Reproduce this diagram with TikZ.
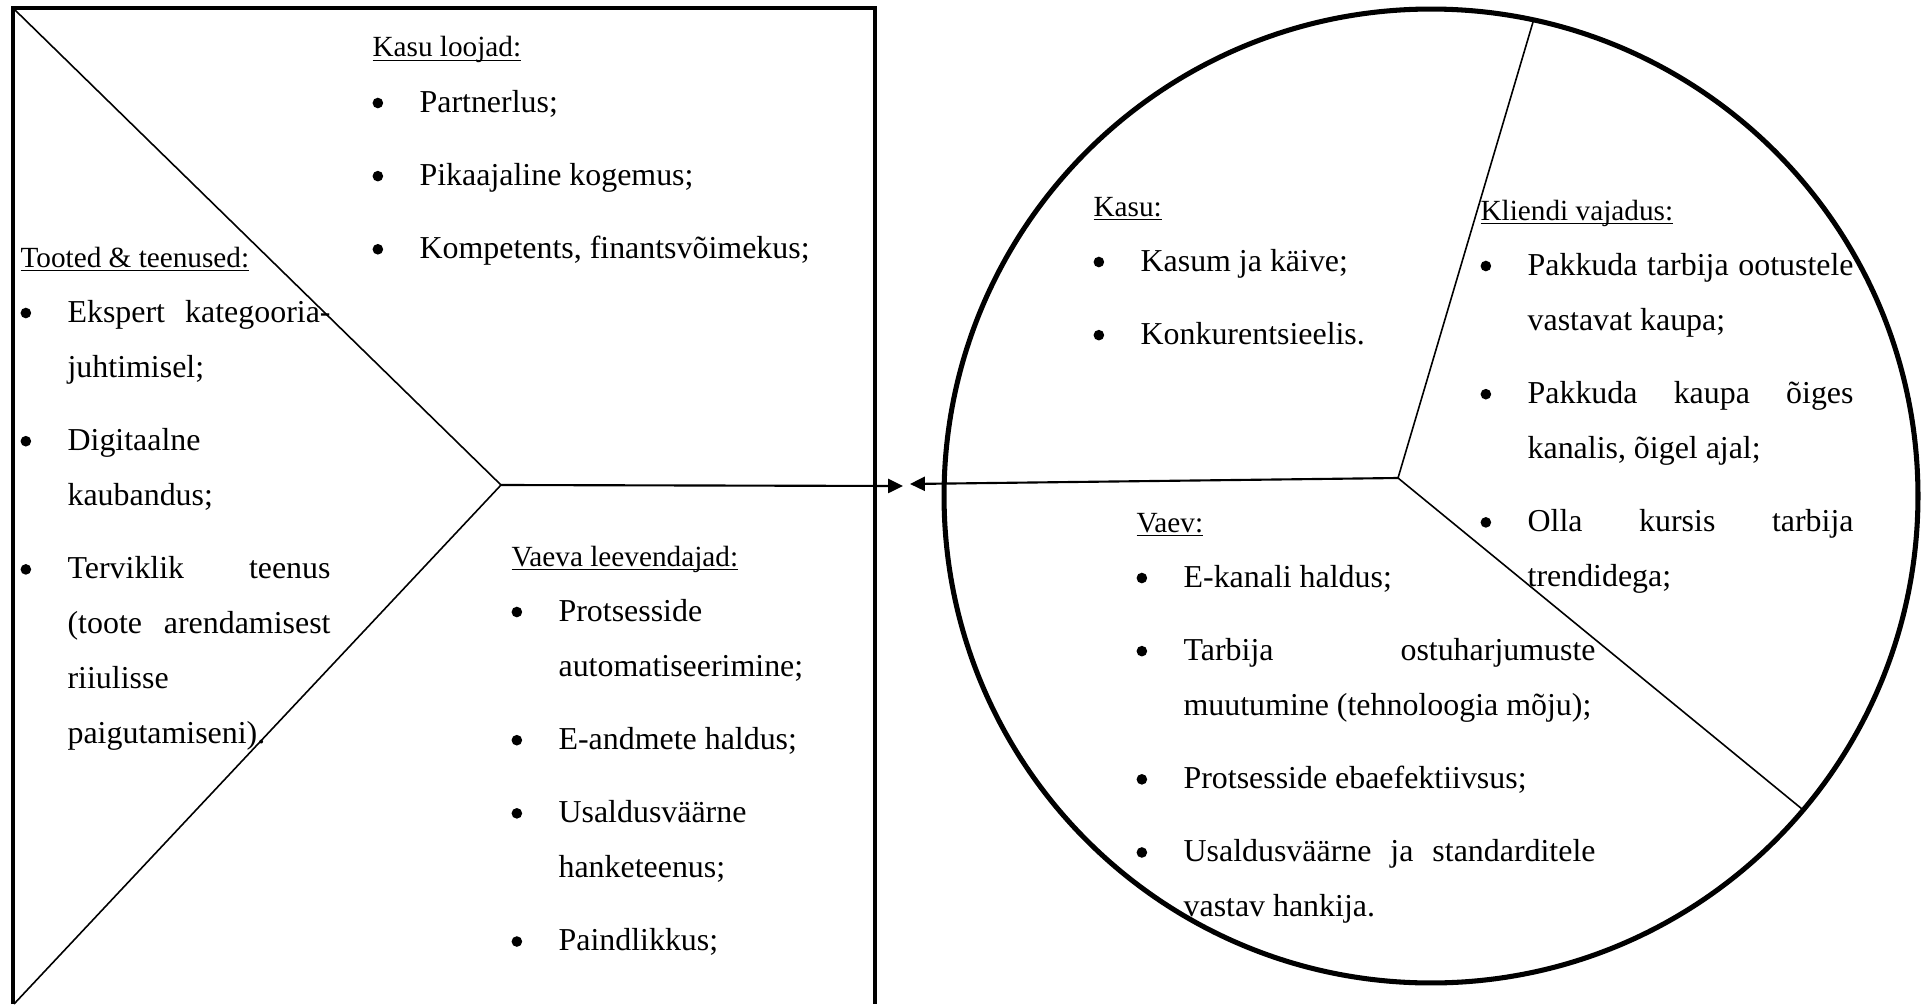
\documentclass[tikz,border=0pt]{standalone}
\usepackage{fontspec}
\setmainfont{Liberation Serif}
\usetikzlibrary{arrows.meta}
\newlength\itemgap \setlength\itemgap{6.8pt}
\def\dotmark{\tikz[baseline=0pt]\fill (2pt,3.4pt) circle (2pt);}
\def\uhead#1{\setbox0\hbox{#1}\rlap{\rule[-1.6pt]{\wd0}{0.55pt}}\box0}
\def\phead#1{\pretolerance=10000\relax\tolerance=10000\relax
  {\fontsize{11}{20.7}\selectfont\uhead{#1}}\par\vspace{-\itemgap}}
\def\pitem#1{\par\vspace{\itemgap}\noindent\hangindent=17.7pt\hangafter=1\relax\makebox[17.7pt][l]{\dotmark}#1}

\begin{document}
\begin{tikzpicture}[x=0.376pt, y=-0.376pt,
    frame/.style={line width=1.5pt, line join=miter},
    ring/.style={line width=1.9pt},
    spoke/.style={line width=0.6pt},
    link/.style={line width=0.8pt, -{Triangle[length=5.6pt,width=5.3pt]}},
    blk/.style={anchor=base west, inner sep=0pt, text width=#1*0.376pt, align=justify,
        font=\fontsize{12}{20.7}\selectfont}]
		%%%%% START %%%%%
		\useasboundingbox (0,0) rectangle (1928,1004);
		
		% left box
		\draw[frame] (13,1004) -- (13,8) -- (875,8) -- (875,1004);
		\coordinate (fork) at (501,485);
		\draw[spoke] (15,10) -- (fork) -- (14,1004);
		
		% right circle
		\coordinate (pie) at (1431,496);
		\coordinate (hub) at (1398,478);
		\draw[ring] (pie) circle (183.1pt);
		\draw[spoke] (1533,22) -- (hub) -- (1802,809);
		
		% arrows between the two
		\coordinate (meetL) at (903,486);
		\coordinate (meetR) at (910,484);
		\draw[link] (fork) -- (meetL);
		\draw[link] (hub) -- (meetR);
		
		\node[blk=488] (creators) at (372,57) {\phead{Kasu loojad:}
			\pitem{Partnerlus;}
			\pitem{Pikaajaline kogemus;}
			\pitem{Kompetents, finantsvõimekus;}\par};
		
		\node[blk=310] (offers) at (20,267) {\phead{Tooted \& teenused:}
			\pitem{Ekspert kategooria-\linebreak juhtimisel;}
			\pitem{Digitaalne\newline kaubandus;}
			\pitem{Terviklik teenus\linebreak (toote arendamisest\linebreak riiulisse\newline paigutamiseni).}\par};
		
		\node[blk=349] (relievers) at (511,566) {\phead{Vaeva leevendajad:}
			\pitem{Protsesside\newline automatiseerimine;}
			\pitem{E-andmete haldus;}
			\pitem{Usaldusväärne\newline hanketeenus;}
			\pitem{Paindlikkus;}\par};
		
		\node[blk=287] (gains) at (1093,216) {\phead{Kasu:}
			\pitem{Kasum ja käive;}
			\pitem{Konkurentsieelis.}\par};
		
		\node[blk=373] (needs) at (1480,220) {\phead{Kliendi vajadus:}
			\pitem{Pakkuda tarbija ootustele\linebreak vastavat kaupa;}
			\pitem{Pakkuda kaupa õiges\linebreak kanalis, õigel ajal;}
			\pitem{Olla kursis tarbija\linebreak trendidega;}\par};
		
		\node[blk=459] (pains) at (1136,532) {\phead{Vaev:}
			\pitem{E-kanali haldus;}
			\pitem{Tarbija ostuharjumuste\linebreak muutumine (tehnoloogia mõju);}
			\pitem{Protsesside ebaefektiivsus;}
			\pitem{Usaldusväärne ja standarditele\linebreak vastav hankija.}\par};
		
		%%%%% END %%%%%
	\end{tikzpicture}
\end{document}
